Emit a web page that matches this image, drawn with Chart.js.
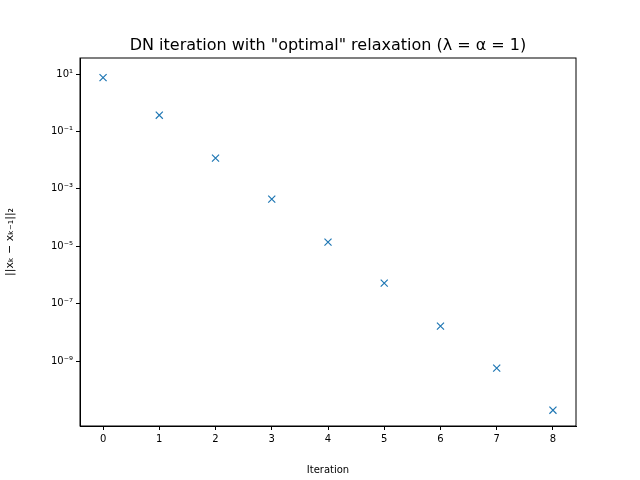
<!DOCTYPE html>
<html>
<head>
<script src="https://cdn.jsdelivr.net/npm/chart.js@4"></script>
<style>body{margin:0;background:#fff}</style>
</head>
<body>
<canvas id="c" width="640" height="480"></canvas>
<script>
const iterations = [0, 1, 2, 3, 4, 5, 6, 7, 8];
const residuals = [7.5, 0.37, 0.0118, 4.4e-4, 1.4e-5, 5.2e-7, 1.66e-8, 5.7e-10, 1.95e-11];
const yTickPowers = [1, -1, -3, -5, -7, -9];
const xTicks = [0, 1, 2, 3, 4, 5, 6, 7, 8];

const sup = {'-': '⁻', '0': '⁰', '1': '¹', '2': '²', '3': '³', '4': '⁴', '5': '⁵', '6': '⁶', '7': '⁷', '8': '⁸', '9': '⁹'};
function powLabel(p) {
    return '10' + String(p).split('').map(ch => sup[ch]).join('');
}

const frame = {
    id: 'frame',
    afterDraw(chart) {
        const a = chart.chartArea, ctx = chart.ctx;
        ctx.save();
        ctx.strokeStyle = '#000';
        ctx.lineWidth = 1;
        ctx.strokeRect(a.left, a.top, a.right - a.left, a.bottom - a.top);
        ctx.fillStyle = '#000';
        ctx.font = '16px "DejaVu Sans"';
        ctx.textAlign = 'center';
        ctx.fillText('DN iteration with "optimal" relaxation (λ = α = 1)', (a.left + a.right) / 2, 50);
        ctx.restore();
    }
};

new Chart(document.getElementById('c'), {
    type: 'scatter',
    data: {
        datasets: [{
            data: iterations.map((x, i) => ({ x: x, y: residuals[i] })),
            pointStyle: 'crossRot',
            radius: 5,
            borderColor: '#1f77b4',
            borderWidth: 1.2
        }]
    },
    options: {
        responsive: false,
        animation: false,
        layout: { padding: { top: 58, right: 64, left: 0, bottom: 0 } },
        plugins: { legend: { display: false }, tooltip: { enabled: false } },
        scales: {
            x: {
                type: 'linear',
                min: -0.41, max: 8.41,
                afterBuildTicks: s => { s.ticks = xTicks.map(v => ({ value: v })); },
                afterFit: s => { s.height = 54; },
                grid: { drawOnChartArea: false, tickLength: 4, color: '#000' },
                border: { color: '#000' },
                ticks: { color: '#000', font: { family: 'DejaVu Sans', size: 10 } },
                title: { display: true, text: 'Iteration', color: '#000', font: { family: 'DejaVu Sans', size: 10 } }
            },
            y: {
                type: 'logarithmic',
                min: Math.pow(10, -11.26), max: Math.pow(10, 1.56),
                afterBuildTicks: s => { s.ticks = yTickPowers.map(p => ({ value: Math.pow(10, p) })); },
                afterFit: s => { s.width = 80; },
                grid: { drawOnChartArea: false, tickLength: 4, color: '#000' },
                border: { color: '#000' },
                ticks: {
                    color: '#000', font: { family: 'DejaVu Sans', size: 10 },
                    callback: v => powLabel(Math.round(Math.log10(v)))
                },
                title: { display: true, text: '||xₖ − xₖ₋₁||₂', color: '#000', font: { family: 'DejaVu Sans', size: 11 } }
            }
        }
    },
    plugins: [frame]
});
</script>
</body>
</html>
